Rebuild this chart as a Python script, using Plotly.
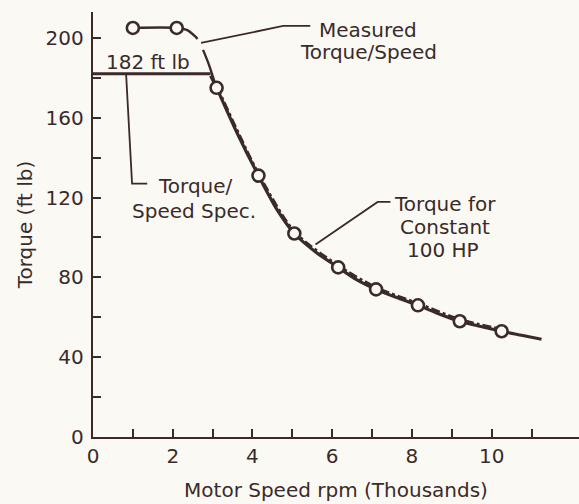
import plotly.graph_objects as go

# Measured torque/speed points (speed in thousands of rpm, torque in ft lb)
measured_speed = [1.0, 2.1, 3.1, 4.15, 5.05, 6.15, 7.1, 8.15, 9.2, 10.25]
measured_torque = [205, 205, 175, 131, 102, 85, 74, 66, 58, 53]

# Path of the measured curve between the first markers and the knee
measured_path_speed = [1.0, 2.1, 2.35, 2.55, 2.62]
measured_path_torque = [205, 205, 204, 201, 199.5]
knee_path_speed = [2.76, 2.9, 3.0, 3.1]
knee_path_torque = [194, 187, 181, 175]

# Torque/speed spec: flat 182 ft lb ...
flat_speed = [0, 2.95]
flat_torque = [182, 182]
# ... then the constant 100 HP curve
hp_speed = [2.95, 3.1, 3.6, 4.15, 4.6, 5.05, 5.6, 6.15, 6.6, 7.1, 7.6, 8.15, 8.7,
            9.2, 9.7, 10.25, 10.75, 11.25]
hp_torque = [181, 175, 153, 131, 114.5, 102, 92.5, 85, 79, 74, 70, 66, 61.5,
             58, 55.5, 53, 51, 49]

y_ticks = list(range(0, 201, 20))
y_labels = [str(v) if v % 40 == 0 else "" for v in y_ticks]
x_ticks = list(range(0, 12))
x_labels = [str(v) if v % 2 == 0 and v <= 10 else "" for v in x_ticks]

INK = "#3a2b2a"
BG = "#fbf9f3"
FONT = "DejaVu Sans"

fig = go.Figure()

fig.add_trace(go.Scatter(x=flat_speed, y=flat_torque, mode="lines",
                         line=dict(color=INK, width=3), hoverinfo="skip"))
fig.add_trace(go.Scatter(x=hp_speed, y=hp_torque, mode="lines",
                         line=dict(color=INK, width=3.2, shape="spline", smoothing=0.8),
                         hoverinfo="skip"))
fig.add_trace(go.Scatter(x=measured_path_speed, y=measured_path_torque, mode="lines",
                         line=dict(color=INK, width=2.4, shape="spline"), hoverinfo="skip"))
fig.add_trace(go.Scatter(x=knee_path_speed, y=knee_path_torque, mode="lines",
                         line=dict(color=INK, width=2.4, shape="spline"), hoverinfo="skip"))
fig.add_trace(go.Scatter(x=measured_speed[2:], y=[t + 0.9 for t in measured_torque[2:]],
                         mode="lines", line=dict(color=INK, width=3, dash="dashdot",
                                                 shape="spline", smoothing=0.8),
                         hoverinfo="skip"))
fig.add_trace(go.Scatter(x=measured_speed, y=measured_torque, mode="markers",
                         marker=dict(symbol="circle", size=12, color=BG,
                                     line=dict(color=INK, width=2.6))))

# leader lines
leader = dict(type="path", xref="x", yref="y", line=dict(color=INK, width=1.8))
fig.add_shape(path="M 2.71 197.5 L 4.77 206 L 5.45 206", **leader)
fig.add_shape(path="M 0.83 182 L 0.98 127 L 1.36 127", **leader)
fig.add_shape(path="M 5.58 96.5 L 7.14 117.8 L 7.46 117.8", **leader)

def label(text, x, y):
    fig.add_annotation(x=x, y=y, xref="x", yref="y", text=text, showarrow=False,
                       xanchor="center", yanchor="middle",
                       font=dict(family=FONT, size=20, color=INK))

label("182 ft lb", 1.39, 188)
label("Measured", 6.90, 204)
label("Torque/Speed", 6.91, 193)
label("Torque/", 2.56, 126)
label("Speed Spec.", 2.54, 113.5)
label("Torque for", 8.84, 117)
label("Constant", 8.84, 105)
label("100 HP", 8.77, 93.5)

axis_common = dict(showline=True, linecolor=INK, linewidth=2.4, ticks="inside",
                   tickcolor=INK, tickwidth=1.8, ticklen=8, showgrid=False,
                   zeroline=False, tickfont=dict(family=FONT, size=20, color=INK))

fig.update_layout(
    width=579, height=504,
    margin=dict(l=93, r=0, t=12, b=67),
    paper_bgcolor=BG, plot_bgcolor=BG,
    showlegend=False,
    xaxis=dict(range=[0, 12.19], tickmode="array", tickvals=x_ticks, ticktext=x_labels,
               title=dict(text="Motor Speed rpm (Thousands)", standoff=16,
                          font=dict(family=FONT, size=20, color=INK)),
               **axis_common),
    yaxis=dict(range=[0, 213], tickmode="array", tickvals=y_ticks, ticktext=y_labels,
               ticklabelstandoff=3,
               title=dict(text="Torque (ft lb)", standoff=8,
                          font=dict(family=FONT, size=20, color=INK)),
               **axis_common),
)

fig.write_html("out.html")
